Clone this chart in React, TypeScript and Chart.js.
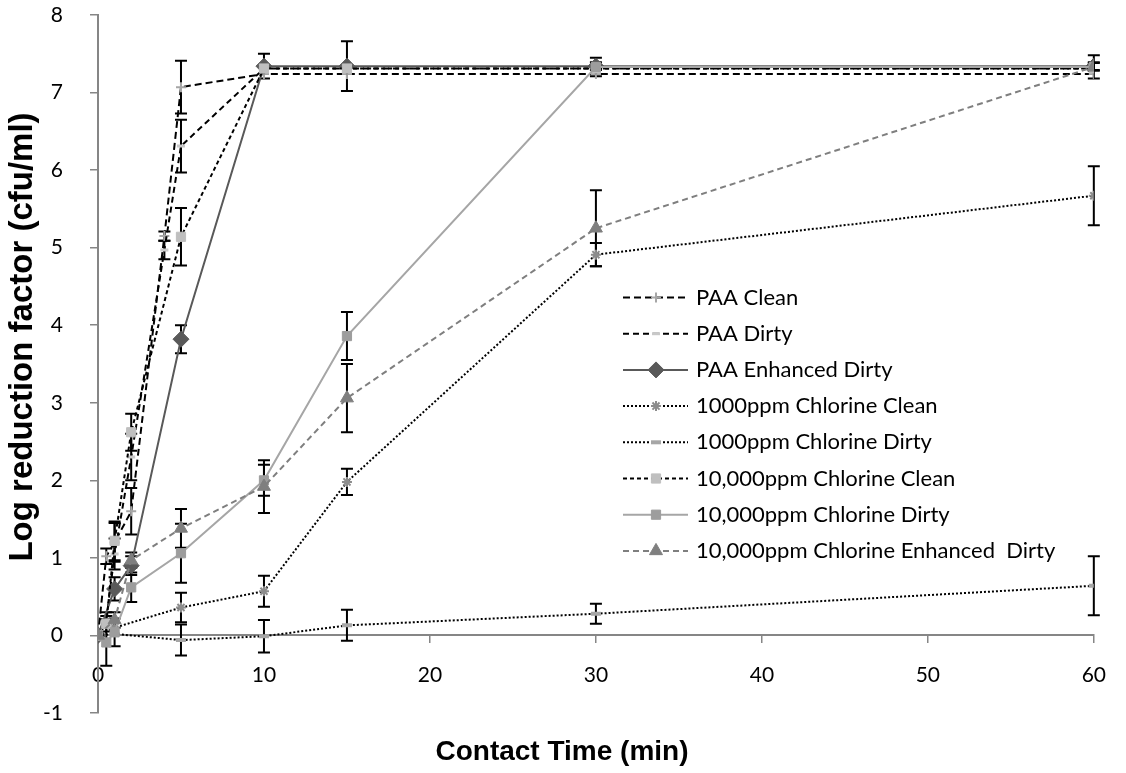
import React, { useEffect, useRef } from 'react';
import { Chart, registerables } from 'chart.js';
import { drawPoint } from 'chart.js/helpers';

Chart.register(...registerables);

// ---------- data ----------
const seriesLabels = [
  'PAA Clean',
  'PAA Dirty',
  'PAA Enhanced Dirty',
  '1000ppm Chlorine Clean',
  '1000ppm Chlorine Dirty',
  '10,000ppm Chlorine Clean',
  '10,000ppm Chlorine Dirty',
  '10,000ppm Chlorine Enhanced  Dirty',
];

const paaCleanTimes = [0, 0.5, 1, 2, 4, 5, 10, 15, 30, 60];
const paaCleanValues = [0, 1.02, 1.2, 1.6, 5.15, 7.07, 7.24, 7.24, 7.24, 7.24];
const paaCleanErrors = [0, 0.1, 0.25, 0.3, 0.06, 0.34, 0, 0, 0, 0];

const paaDirtyTimes = [0, 0.5, 1, 2, 4, 5, 10, 15, 30, 60];
const paaDirtyValues = [0, 0.2, 1.05, 2.3, 4.97, 6.31, 7.31, 7.31, 7.31, 7.31];
const paaDirtyErrors = [0, 0.1, 0.2, 0.3, 0.12, 0.34, 0, 0, 0, 0];

const paaEnhTimes = [0, 1, 2, 5, 10, 15, 30, 60];
const paaEnhValues = [0, 0.6, 0.9, 3.82, 7.34, 7.34, 7.34, 7.34];
const paaEnhErrors = [0, 0.15, 0.12, 0.18, 0.16, 0.32, 0.05, 0.05];

const cl1000CleanTimes = [0, 1, 5, 10, 15, 30, 60];
const cl1000CleanValues = [0, 0.1, 0.36, 0.57, 1.98, 4.91, 5.67];
const cl1000CleanErrors = [0, 0, 0.19, 0.2, 0.17, 0.15, 0.38];

const cl1000DirtyTimes = [0, 1, 5, 10, 15, 30, 60];
const cl1000DirtyValues = [0, 0.02, -0.06, -0.01, 0.13, 0.28, 0.64];
const cl1000DirtyErrors = [0, 0, 0.2, 0.21, 0.2, 0.13, 0.38];

const cl10000CleanTimes = [0, 0.5, 1, 2, 5, 10, 15, 30, 60];
const cl10000CleanValues = [0, 0.15, 1.22, 2.62, 5.14, 7.31, 7.31, 7.31, 7.31];
const cl10000CleanErrors = [0, 0.1, 0.25, 0.24, 0.37, 0, 0, 0, 0];

const cl10000DirtyTimes = [0, 0.5, 1, 2, 5, 10, 15, 30, 60];
const cl10000DirtyValues = [0, -0.09, 0.04, 0.62, 1.06, 2.0, 3.86, 7.33, 7.33];
const cl10000DirtyErrors = [0, 0.3, 0.18, 0.19, 0.38, 0.2, 0.31, 0.12, 0.05];

const cl10000EnhTimes = [0, 1, 2, 5, 10, 15, 30, 60];
const cl10000EnhValues = [0, 0.2, 0.97, 1.38, 1.92, 3.06, 5.25, 7.33];
const cl10000EnhErrors = [0, 0.1, 0.1, 0.25, 0.34, 0.44, 0.49, 0.15];

const xTitle = 'Contact Time (min)';
const yTitle = 'Log reduction factor (cfu/ml)';

// ---------- helpers ----------
const toPoints = (t: number[], v: number[]) => t.map((x, i) => ({ x, y: v[i] }));

const errorBarPlugin = {
  id: 'errorBars',
  beforeDatasetsDraw(chart: any) {
    const ctx = chart.ctx;
    const yScale = chart.scales.y;
    ctx.save();
    ctx.strokeStyle = '#000';
    ctx.lineWidth = 2;
    ctx.setLineDash([]);
    chart.data.datasets.forEach((ds: any, di: number) => {
      const meta = chart.getDatasetMeta(di);
      const errs: number[] = ds.errors || [];
      meta.data.forEach((el: any, i: number) => {
        const e = errs[i];
        if (!e) return;
        const v = ds.data[i].y;
        const yt = yScale.getPixelForValue(v + e);
        const yb = yScale.getPixelForValue(v - e);
        const x = el.x;
        ctx.beginPath();
        ctx.moveTo(x, yt);
        ctx.lineTo(x, yb);
        ctx.moveTo(x - 6, yt);
        ctx.lineTo(x + 6, yt);
        ctx.moveTo(x - 6, yb);
        ctx.lineTo(x + 6, yb);
        ctx.stroke();
      });
    });
    ctx.restore();
  },
};

const decorPlugin = {
  id: 'decor',
  afterDraw(chart: any) {
    const ctx = chart.ctx;
    // legend
    const lx0 = 623;
    const lx1 = 688;
    const mx = 656;
    const tx = 696;
    const y0 = 297.5;
    const dy = 36.2;
    chart.data.datasets.forEach((ds: any, i: number) => {
      const y = y0 + i * dy;
      ctx.save();
      ctx.strokeStyle = ds.borderColor;
      ctx.lineWidth = ds.borderWidth;
      ctx.setLineDash(ds.borderDash || []);
      ctx.beginPath();
      ctx.moveTo(lx0, y);
      ctx.lineTo(lx1, y);
      ctx.stroke();
      ctx.setLineDash([]);
      ctx.fillStyle = ds.pointBackgroundColor;
      ctx.strokeStyle = ds.pointBorderColor;
      ctx.lineWidth = ds.pointBorderWidth;
      drawPoint(ctx, { pointStyle: ds.pointStyle, radius: ds.pointRadius, rotation: 0, borderWidth: ds.pointBorderWidth } as any, mx, y);
      ctx.fillStyle = '#000';
      ctx.font = '22px Lato';
      ctx.textAlign = 'left';
      ctx.textBaseline = 'middle';
      ctx.fillText(ds.label, tx, y);
      ctx.restore();
    });
    // axis titles
    ctx.save();
    ctx.fillStyle = '#000';
    ctx.textAlign = 'center';
    ctx.textBaseline = 'middle';
    ctx.font = 'bold 28px "Liberation Sans"';
    ctx.fillText(xTitle, 562, 752);
    ctx.font = 'bold 33px "Liberation Sans"';
    ctx.translate(23, 337);
    ctx.rotate(-Math.PI / 2);
    ctx.fillText(yTitle, 0, 0);
    ctx.restore();
  },
};

export default function App() {
  const ref = useRef<HTMLCanvasElement | null>(null);
  useEffect(() => {
    document.body.style.margin = '0';
    if (!ref.current) return;
    const mk = (
      i: number,
      t: number[],
      v: number[],
      e: number[],
      line: string,
      dash: number[],
      style: string,
      pColor: string,
      radius: number,
      pWidth: number
    ) => ({
      label: seriesLabels[i],
      data: toPoints(t, v),
      errors: e,
      borderColor: line,
      borderWidth: 2,
      borderDash: dash,
      pointStyle: style,
      pointRadius: radius,
      pointHoverRadius: radius,
      pointBackgroundColor: pColor,
      pointBorderColor: pColor,
      pointBorderWidth: pWidth,
      fill: false,
      tension: 0,
      order: -i,
    });
    const datasets = [
      mk(0, paaCleanTimes, paaCleanValues, paaCleanErrors, '#000', [7, 4], 'cross', '#a6a6a6', 5, 2),
      mk(1, paaDirtyTimes, paaDirtyValues, paaDirtyErrors, '#000', [6, 4], 'line', '#c8c8c8', 4, 3),
      mk(2, paaEnhTimes, paaEnhValues, paaEnhErrors, '#595959', [], 'rectRot', '#595959', 8, 1),
      mk(3, cl1000CleanTimes, cl1000CleanValues, cl1000CleanErrors, '#000', [2, 2], 'star', '#8c8c8c', 5, 2),
      mk(4, cl1000DirtyTimes, cl1000DirtyValues, cl1000DirtyErrors, '#000', [2, 2], 'line', '#a6a6a6', 5, 4),
      mk(5, cl10000CleanTimes, cl10000CleanValues, cl10000CleanErrors, '#000', [4, 3], 'rect', '#bfbfbf', 6.5, 1),
      mk(6, cl10000DirtyTimes, cl10000DirtyValues, cl10000DirtyErrors, '#a6a6a6', [], 'rect', '#9d9d9d', 6.5, 1),
      mk(7, cl10000EnhTimes, cl10000EnhValues, cl10000EnhErrors, '#7f7f7f', [6, 4], 'triangle', '#7f7f7f', 7.5, 1),
    ];
    const chart = new Chart(ref.current, {
      type: 'line',
      data: { datasets } as any,
      options: {
        animation: false,
        responsive: true,
        maintainAspectRatio: false,
        layout: { padding: { left: 0, right: 24, top: 15, bottom: 60 } },
        plugins: { legend: { display: false }, tooltip: { enabled: false } },
        scales: {
          x: {
            type: 'linear',
            min: 0,
            max: 60,
            position: { y: 0 } as any,
            ticks: { stepSize: 10, font: { family: 'Lato', size: 21 }, color: '#000', padding: 20 },
            grid: { drawOnChartArea: false, drawTicks: true, tickLength: 7, color: '#868686', lineWidth: 1.5 },
            border: { color: '#868686', width: 2 },
          },
          y: {
            type: 'linear',
            min: -1,
            max: 8,
            position: 'left',
            afterFit: (s: any) => {
              s.width = 98;
              s.paddingTop = 0;
              s.paddingBottom = 0;
            },
            ticks: { stepSize: 1, font: { family: 'Lato', size: 21 }, color: '#000', padding: 27 },
            grid: { drawOnChartArea: false, drawTicks: true, tickLength: 8, color: '#868686', lineWidth: 1.5 },
            border: { color: '#868686', width: 2 },
          },
        },
      } as any,
      plugins: [errorBarPlugin, decorPlugin],
    });
    if ((document as any).fonts && (document as any).fonts.ready) {
      (document as any).fonts.ready.then(() => chart.draw());
    }
    return () => chart.destroy();
  }, []);
  return (
    <div style={{ width: 1126, height: 773, position: 'relative' }}>
      <canvas ref={ref} />
    </div>
  );
}
